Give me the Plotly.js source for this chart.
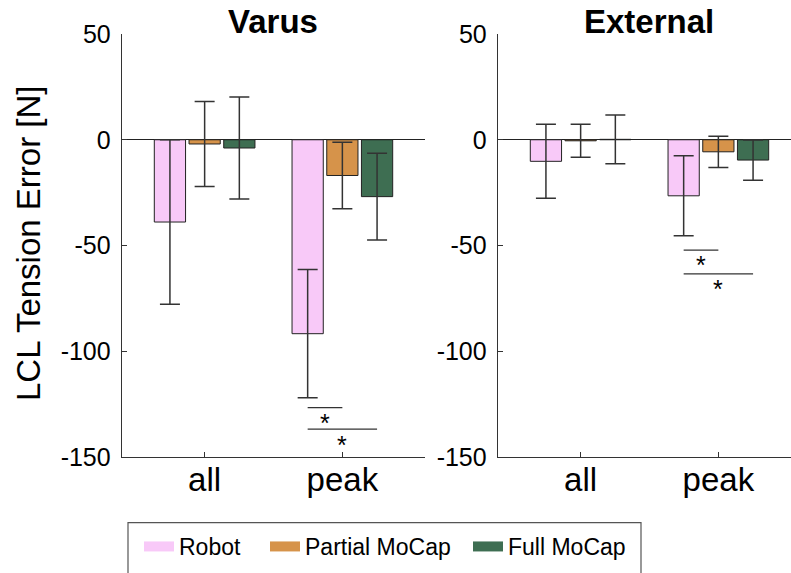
<!DOCTYPE html>
<html>
<head>
<meta charset="utf-8">
<script src="https://cdn.plot.ly/plotly-3.0.1.min.js"></script>
<style>html,body{margin:0;padding:0;background:#fff;}#chart{width:791px;height:573px;}</style>
</head>
<body>
<div id="chart"></div>
<script>
// ---------- data ----------
const categories = ['all', 'peak'];
const seriesNames = ['Robot', 'Partial MoCap', 'Full MoCap'];
const panelTitles = ['Varus', 'External'];
const yTitle = 'LCL Tension Error [N]';
const yTickVals = [-150, -100, -50, 0, 50];
const yTickText = ['-150', '-100', '-50', '0', '50'];

const varusRobot = [-38.9, -91.7];
const varusRobotErr = [38.9, 30.3];
const varusPartial = [-2.0, -16.9];
const varusPartialErr = [20.1, 15.7];
const varusFull = [-3.9, -26.9];
const varusFullErr = [24.1, 20.5];

const externalRobot = [-10.2, -26.5];
const externalRobotErr = [17.5, 18.9];
const externalPartial = [-0.5, -5.7];
const externalPartialErr = [7.8, 7.4];
const externalFull = [0.2, -9.6];
const externalFullErr = [11.5, 9.5];

// significance brackets: category index, from-series, to-series, line y, star y
const varusSigCat = [1, 1];
const varusSigFrom = [0, 0];
const varusSigTo = [1, 2];
const varusSigY = [-126.7, -136.8];
const varusStarY = [-131.7, -141.8];

const externalSigCat = [1, 1];
const externalSigFrom = [0, 0];
const externalSigTo = [1, 2];
const externalSigY = [-52.2, -63.4];
const externalStarY = [-57.0, -68.4];

// ---------- style ----------
const colors = ['#F8C9F8', '#D6934A', '#3E6E52'];
const FONT = 'Liberation Sans, Arial, sans-serif';
const W = 791, H = 573, T = 34, B = 116;
const plotH = H - T - B;
const bargap = 0.244, bargroupgap = 0.1;
const slot = (1 - bargap) / 3;
const px = v => v / W;
const py = p => (H - B - p) / plotH;

const xIdx = categories.map((c, i) => i);
const panels = [
  {means: [varusRobot, varusPartial, varusFull], errs: [varusRobotErr, varusPartialErr, varusFullErr],
   sigCat: varusSigCat, sigFrom: varusSigFrom, sigTo: varusSigTo, sigY: varusSigY, starY: varusStarY, xa: 'x', ya: 'y'},
  {means: [externalRobot, externalPartial, externalFull], errs: [externalRobotErr, externalPartialErr, externalFullErr],
   sigCat: externalSigCat, sigFrom: externalSigFrom, sigTo: externalSigTo, sigY: externalSigY, starY: externalStarY, xa: 'x2', ya: 'y2'}
];
const legendIds = ['legend', 'legend2', 'legend3'];

const traces = [];
const annotations = [];
panels.forEach((p, pi) => {
  p.means.forEach((m, si) => {
    traces.push({
      type: 'bar', x: xIdx, y: m, name: seriesNames[si],
      xaxis: p.xa, yaxis: p.ya,
      marker: {color: colors[si], line: {color: '#222', width: 1}},
      error_y: {type: 'data', array: p.errs[si], visible: true, color: '#333', thickness: 1.5, width: 10},
      showlegend: false, hoverinfo: 'skip'
    });
  });
  p.sigY.forEach((yv, k) => {
    const x0 = p.sigCat[k] + (p.sigFrom[k] - 1) * slot;
    const x1 = p.sigCat[k] + (p.sigTo[k] - 1) * slot;
    traces.push({
      type: 'scatter', mode: 'lines', x: [x0, x1], y: [yv, yv],
      xaxis: p.xa, yaxis: p.ya, showlegend: false, hoverinfo: 'skip',
      line: {color: '#333', width: 1.3}
    });
    annotations.push({
      xref: p.xa, yref: p.ya, x: (x0 + x1) / 2, y: p.starY[k], text: '*', xanchor: 'center',
      showarrow: false, yshift: -5, font: {family: FONT, size: 25, color: '#000'}
    });
  });
});
// legend-only entries (wide colour swatches)
seriesNames.forEach((n, si) => {
  traces.push({type: 'scatter', mode: 'lines', x: [null], y: [null], name: n, legend: legendIds[si],
    line: {color: colors[si], width: 12}, showlegend: true, hoverinfo: 'skip'});
});

const leftDom = [px(122), px(425)];
const rightDom = [px(498), 1];
const unitPx = (425 - 122) / 2.2;
const rightMax = -0.6 + (W - 498) / unitPx;
const titleX = [(leftDom[0] + leftDom[1]) / 2, px(649)];

panelTitles.forEach((t, i) => {
  annotations.push({xref: 'paper', yref: 'paper', x: titleX[i], xanchor: 'center', y: py(21), yanchor: 'middle',
    text: '<b>' + t + '</b>', showarrow: false, font: {family: FONT, size: 33, color: '#000'}});
});
annotations.push({xref: 'paper', yref: 'paper', x: px(28), y: py(244), text: yTitle, textangle: -90,
  showarrow: false, xanchor: 'center', yanchor: 'middle', font: {family: FONT, size: 33, color: '#000'}});

function yax(anchor) {
  return {anchor: anchor, range: [-150, 50], tickvals: yTickVals, ticktext: yTickText,
    ticks: 'inside', ticklen: 5, tickcolor: '#333', showline: true, linecolor: '#333', linewidth: 1.3,
    showgrid: false, zeroline: true, zerolinecolor: '#222', zerolinewidth: 1.3,
    ticklabelstandoff: 5, tickfont: {family: FONT, size: 25, color: '#000'}, fixedrange: true};
}
function xax(anchor, dom, rmax) {
  return {anchor: anchor, domain: dom, range: [-0.6, rmax], tickvals: xIdx, ticktext: categories,
    ticks: 'inside', ticklen: 5, tickcolor: '#333', showline: true, linecolor: '#333', linewidth: 1.3,
    showgrid: false, zeroline: false, ticklabelstandoff: -7,
    tickfont: {family: FONT, size: 33, color: '#000'}, fixedrange: true};
}
function leg(xPix) {
  return {orientation: 'h', x: px(xPix), xanchor: 'left', y: py(525), yanchor: 'top',
    bgcolor: 'rgba(0,0,0,0)', borderwidth: 0, font: {family: FONT, size: 23, color: '#000'}};
}

const layout = {
  width: W, height: H, margin: {l: 0, r: 0, t: T, b: B},
  paper_bgcolor: '#fff', plot_bgcolor: '#fff',
  barmode: 'group', bargap: bargap, bargroupgap: bargroupgap,
  xaxis: xax('y', leftDom, 1.6), yaxis: yax('x'),
  xaxis2: xax('y2', rightDom, rightMax), yaxis2: yax('x2'),
  legend: leg(139), legend2: leg(265), legend3: leg(468),
  annotations: annotations,
  shapes: [{type: 'rect', xref: 'paper', yref: 'paper', x0: px(128), x1: px(641), y0: py(522.7), y1: py(610),
    line: {color: '#555', width: 1.2}, fillcolor: 'rgba(0,0,0,0)'}]
};

Plotly.newPlot('chart', traces, layout, {displayModeBar: false, staticPlot: true});
</script>
</body>
</html>
